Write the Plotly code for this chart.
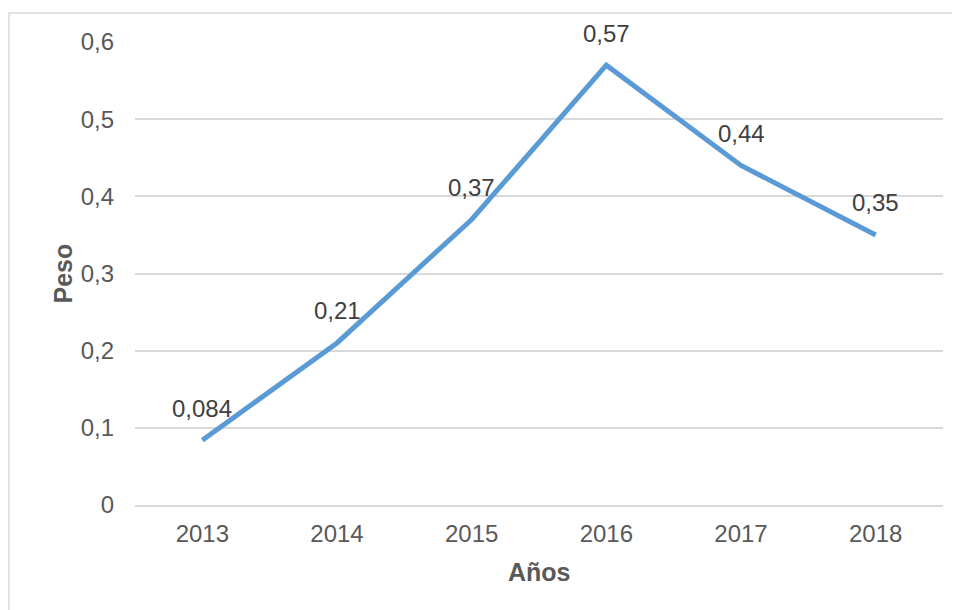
import plotly.graph_objects as go

years = ["2013", "2014", "2015", "2016", "2017", "2018"]
peso = [0.084, 0.21, 0.37, 0.57, 0.44, 0.35]
peso_labels = ["0,084", "0,21", "0,37", "0,57", "0,44", "0,35"]
y_ticks = [0, 0.1, 0.2, 0.3, 0.4, 0.5, 0.6]
y_tick_labels = ["0", "0,1", "0,2", "0,3", "0,4", "0,5", "0,6"]

FONT = "Liberation Sans, Arial, sans-serif"
TXT = "#595959"

fig = go.Figure()
fig.add_trace(go.Scatter(
    x=years, y=peso, mode="lines",
    line=dict(color="#5B9BD5", width=5),
    hoverinfo="skip", showlegend=False,
))

annotations = []
for i, (v, lab) in enumerate(zip(peso, peso_labels)):
    annotations.append(dict(
        x=i, y=v, xref="x", yref="y", text=lab, showarrow=False,
        xanchor="center", yanchor="middle",
        yshift=32, font=dict(family=FONT, size=24, color="#404040"),
    ))

# axis titles
annotations.append(dict(
    x=0.5, y=0, xref="paper", yref="paper", text="<b>Años</b>",
    showarrow=False, xanchor="center", yanchor="middle", yshift=-67,
    font=dict(family=FONT, size=25, color=TXT),
))
annotations.append(dict(
    x=0, y=0.5, xref="paper", yref="paper", text="<b>Peso</b>",
    showarrow=False, xanchor="center", yanchor="middle", xshift=-73,
    textangle=-90, font=dict(family=FONT, size=25, color=TXT),
))

# page body has an 8px offset; figure coordinates compensate
L, R, T, B = 127, 25, 34, 113
W, H = 960, 610
pw, ph = W - L - R, H - T - B

fig.update_layout(
    width=W, height=H,
    margin=dict(l=L, r=R, t=T, b=B),
    paper_bgcolor="white", plot_bgcolor="white",
    separators=",.",
    annotations=annotations,
    xaxis=dict(
        type="category", range=[-0.5, 5.5], showgrid=False,
        showline=True, linecolor="#D9D9D9", linewidth=1.5,
        ticks="", ticklabelstandoff=6,
        tickfont=dict(family=FONT, size=24, color=TXT),
        zeroline=False, fixedrange=True,
    ),
    yaxis=dict(
        range=[0, 0.6], tickvals=y_ticks, ticktext=y_tick_labels,
        showgrid=True, gridcolor="#D9D9D9", gridwidth=1.5,
        zeroline=False, showline=False, ticks="", ticklabelstandoff=20,
        tickfont=dict(family=FONT, size=24, color=TXT),
        fixedrange=True,
    ),
    shapes=[dict(
        type="rect", xref="paper", yref="paper",
        x0=(1 - L) / pw, x1=(958 - L) / pw,
        y0=(H - B - 620) / ph, y1=(H - B - 5) / ph,
        line=dict(color="#D9D9D9", width=1.5), fillcolor="rgba(0,0,0,0)",
        layer="below",
    )],
)

fig.write_html("out.html")
